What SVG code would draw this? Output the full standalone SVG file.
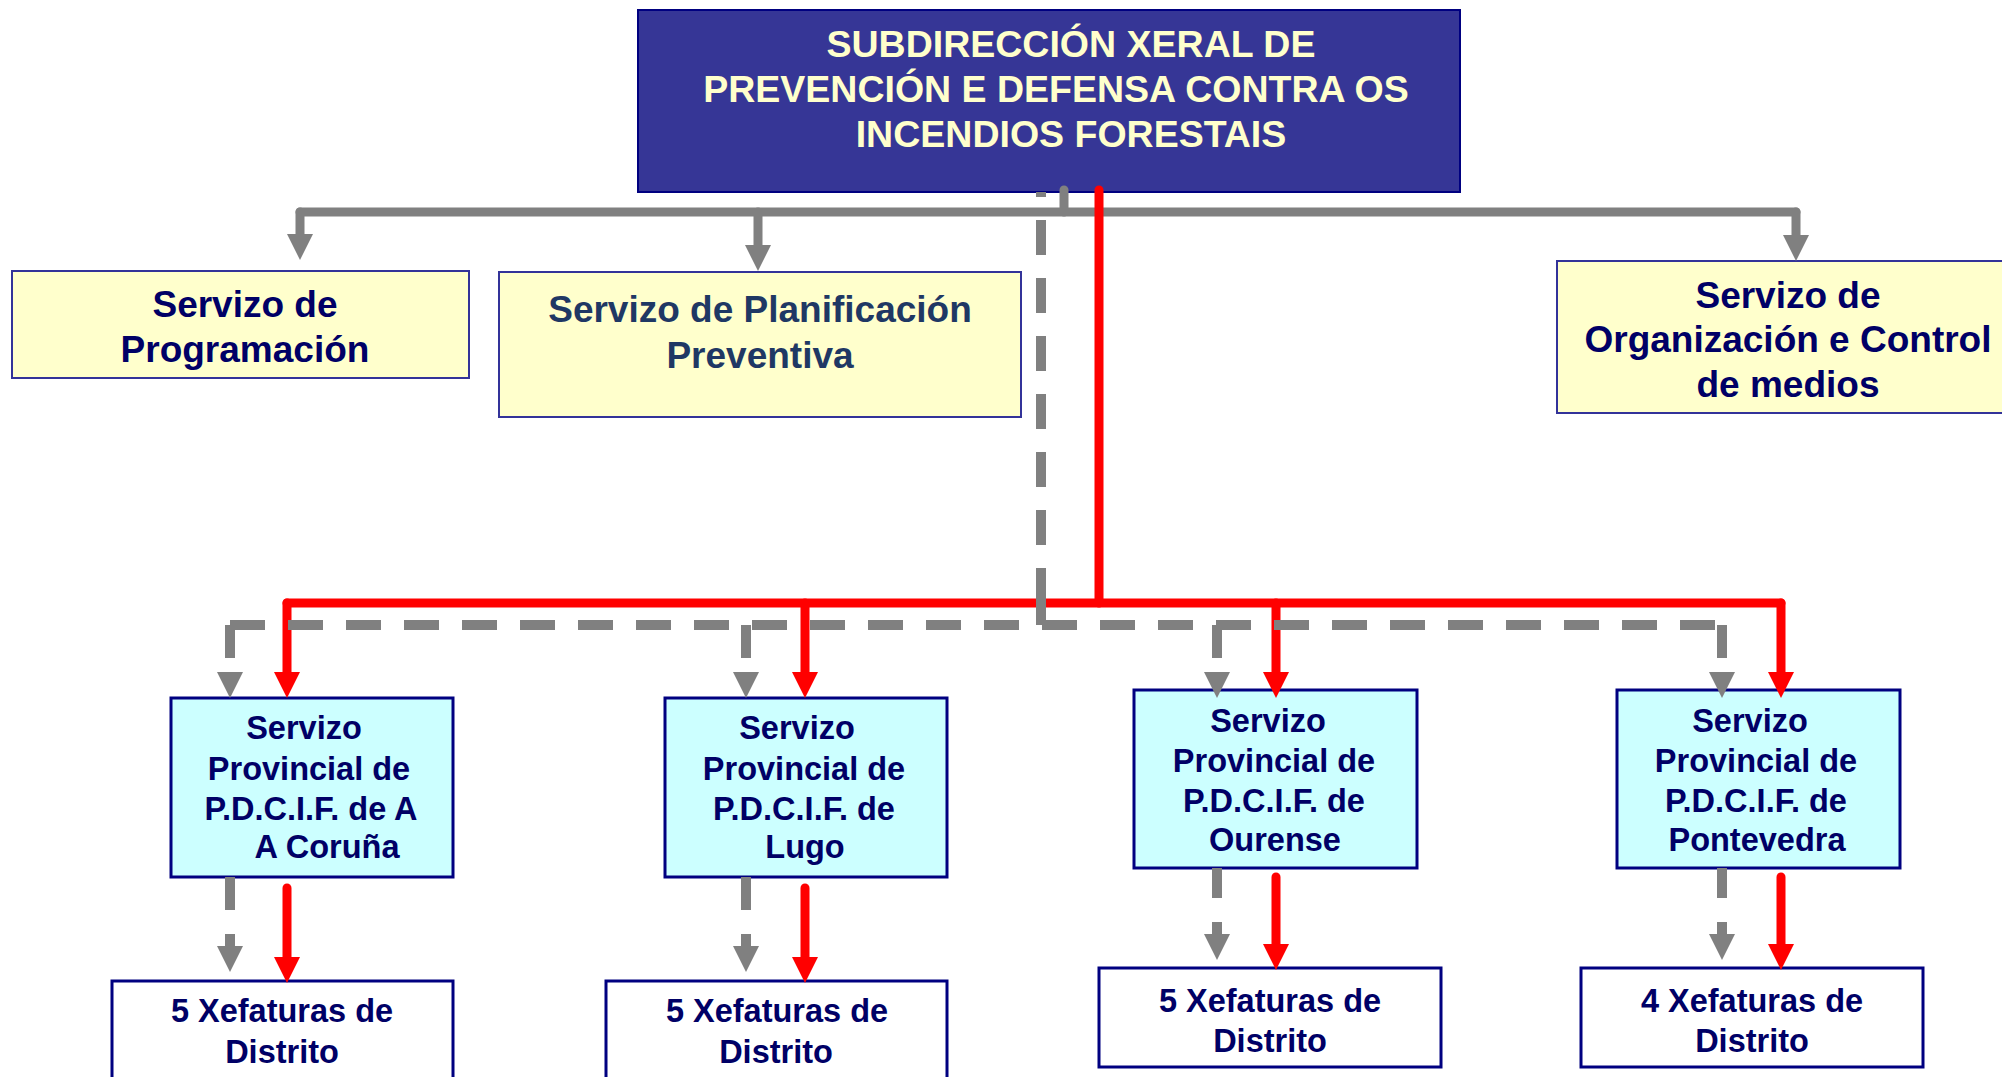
<svg xmlns="http://www.w3.org/2000/svg" width="2002" height="1077" viewBox="0 0 2002 1077">
<style>
text { font-family: "Liberation Sans", Arial, sans-serif; font-weight: bold; text-anchor: middle; }
.title { fill: #FFFFCC; font-size: 37.5px; }
.top { fill: #000066; font-size: 37px; }
.plan { fill: #1F3864; font-size: 37px; }
.prov { fill: #000066; font-size: 32.5px; }
.xef { fill: #000066; font-size: 32.5px; }
.box-title { fill: #363696; stroke: #000080; stroke-width: 2; }
.box-yellow { fill: #FFFFCC; stroke: #333399; stroke-width: 2; }
.box-prov { fill: #CCFFFF; stroke: #000080; stroke-width: 3; }
.box-xef { fill: #FFFFFF; stroke: #000080; stroke-width: 3; }
.gray { fill: none; stroke: #808080; stroke-width: 9; stroke-linecap: round; }
.dash { fill: none; stroke: #808080; stroke-width: 10; stroke-dasharray: 35 23; }
.dseg { fill: none; stroke: #808080; stroke-width: 10; }
.red { fill: none; stroke: #FF0000; stroke-width: 9; stroke-linecap: round; }
</style>
<defs>
<marker id="ag" markerUnits="userSpaceOnUse" markerWidth="26" markerHeight="26" viewBox="0 0 26 26" refX="2" refY="13" orient="auto"><path d="M0 0 L26 13 L0 26 z" fill="#808080"/></marker>
<marker id="ar" markerUnits="userSpaceOnUse" markerWidth="26" markerHeight="26" viewBox="0 0 26 26" refX="2" refY="13" orient="auto"><path d="M0 0 L26 13 L0 26 z" fill="#FF0000"/></marker>
</defs>

<g id="subdireccion">
<rect class="box-title" x="638" y="10" width="822" height="182"/>
<text class="title" x="1071" y="57">SUBDIRECCIÓN XERAL DE</text>
<text class="title" x="1056" y="102">PREVENCIÓN E DEFENSA CONTRA OS</text>
<text class="title" x="1071" y="147">INCENDIOS FORESTAIS</text>
</g>

<g id="programacion">
<rect class="box-yellow" x="12" y="271" width="457" height="107"/>
<text class="top" x="245" y="317">Servizo de</text>
<text class="top" x="245" y="362">Programación</text>
</g>

<g id="planificacion">
<rect class="box-yellow" x="499" y="272" width="522" height="145"/>
<text class="plan" x="760" y="322">Servizo de Planificación</text>
<text class="plan" x="760" y="368">Preventiva</text>
</g>

<g id="organizacion">
<rect class="box-yellow" x="1557" y="261" width="460" height="152"/>
<text class="top" x="1788" y="308">Servizo de</text>
<text class="top" x="1788" y="352">Organización e Control</text>
<text class="top" x="1788" y="397">de medios</text>
</g>

<g id="prov-coruna">
<rect class="box-prov" x="171" y="698" width="282" height="179"/>
<text class="prov" x="304" y="739">Servizo</text>
<text class="prov" x="309" y="780">Provincial de</text>
<text class="prov" x="311" y="820">P.D.C.I.F. de A</text>
<text class="prov" x="327" y="858">A Coruña</text>
</g>

<g id="prov-lugo">
<rect class="box-prov" x="665" y="698" width="282" height="179"/>
<text class="prov" x="797" y="739">Servizo</text>
<text class="prov" x="804" y="780">Provincial de</text>
<text class="prov" x="804" y="820">P.D.C.I.F. de</text>
<text class="prov" x="805" y="858">Lugo</text>
</g>

<g id="prov-ourense">
<rect class="box-prov" x="1134" y="690" width="283" height="178"/>
<text class="prov" x="1268" y="732">Servizo</text>
<text class="prov" x="1274" y="772">Provincial de</text>
<text class="prov" x="1274" y="812">P.D.C.I.F. de</text>
<text class="prov" x="1275" y="851">Ourense</text>
</g>

<g id="prov-pontevedra">
<rect class="box-prov" x="1617" y="690" width="283" height="178"/>
<text class="prov" x="1750" y="732">Servizo</text>
<text class="prov" x="1756" y="772">Provincial de</text>
<text class="prov" x="1756" y="812">P.D.C.I.F. de</text>
<text class="prov" x="1757" y="851">Pontevedra</text>
</g>

<g id="xef-coruna">
<rect class="box-xef" x="112" y="981" width="341" height="110"/>
<text class="xef" x="282" y="1022">5 Xefaturas de</text>
<text class="xef" x="282" y="1063">Distrito</text>
</g>

<g id="xef-lugo">
<rect class="box-xef" x="606" y="981" width="341" height="110"/>
<text class="xef" x="777" y="1022">5 Xefaturas de</text>
<text class="xef" x="776" y="1063">Distrito</text>
</g>

<g id="xef-ourense">
<rect class="box-xef" x="1099" y="968" width="342" height="99"/>
<text class="xef" x="1270" y="1012">5 Xefaturas de</text>
<text class="xef" x="1270" y="1052">Distrito</text>
</g>

<g id="xef-pontevedra">
<rect class="box-xef" x="1581" y="968" width="342" height="99"/>
<text class="xef" x="1752" y="1012">4 Xefaturas de</text>
<text class="xef" x="1752" y="1052">Distrito</text>
</g>

<g id="connectors">
<!-- grey solid: staff services -->
<path class="gray" d="M1064 190 V212"/>
<path class="gray" d="M300 212 H1796"/>
<path class="gray" d="M300 212 V236" marker-end="url(#ag)"/>
<path class="gray" d="M758 212 V247" marker-end="url(#ag)"/>
<path class="gray" d="M1796 212 V237" marker-end="url(#ag)"/>

<!-- red: hierarchical line -->
<path class="red" d="M1099 190 V603"/>
<path class="red" d="M287 603 H1781"/>
<path class="red" d="M287 603 V674" marker-end="url(#ar)"/>
<path class="red" d="M805 603 V674" marker-end="url(#ar)"/>
<path class="red" d="M1276 603 V674" marker-end="url(#ar)"/>
<path class="red" d="M1781 603 V674" marker-end="url(#ar)"/>
<path class="red" d="M287 888 V959" marker-end="url(#ar)"/>
<path class="red" d="M805 888 V959" marker-end="url(#ar)"/>
<path class="red" d="M1276 877 V946" marker-end="url(#ar)"/>
<path class="red" d="M1781 877 V946" marker-end="url(#ar)"/>

<!-- grey dashed: functional line -->
<path class="dash" d="M1041 192 V625" stroke-dasharray="35 26" stroke-dashoffset="30"/>
<path class="dseg" d="M1041 590 V625"/>
<path class="dash" d="M230 625 H1722"/>
<path class="dseg" d="M230 625 V658"/>
<path class="dseg" d="M746 625 V658"/>
<path class="dseg" d="M1217 625 V658"/>
<path class="dseg" d="M1722 625 V658"/>
<path class="dseg" d="M230 673 V674" marker-end="url(#ag)"/>
<path class="dseg" d="M746 673 V674" marker-end="url(#ag)"/>
<path class="dseg" d="M1217 673 V674" marker-end="url(#ag)"/>
<path class="dseg" d="M1722 673 V674" marker-end="url(#ag)"/>
<path class="dseg" d="M230 877 V910"/>
<path class="dseg" d="M746 877 V910"/>
<path class="dseg" d="M1217 868 V898"/>
<path class="dseg" d="M1722 868 V898"/>
<path class="dseg" d="M230 934 V948" marker-end="url(#ag)"/>
<path class="dseg" d="M746 934 V948" marker-end="url(#ag)"/>
<path class="dseg" d="M1217 922 V936" marker-end="url(#ag)"/>
<path class="dseg" d="M1722 922 V936" marker-end="url(#ag)"/>
</g>
</svg>
